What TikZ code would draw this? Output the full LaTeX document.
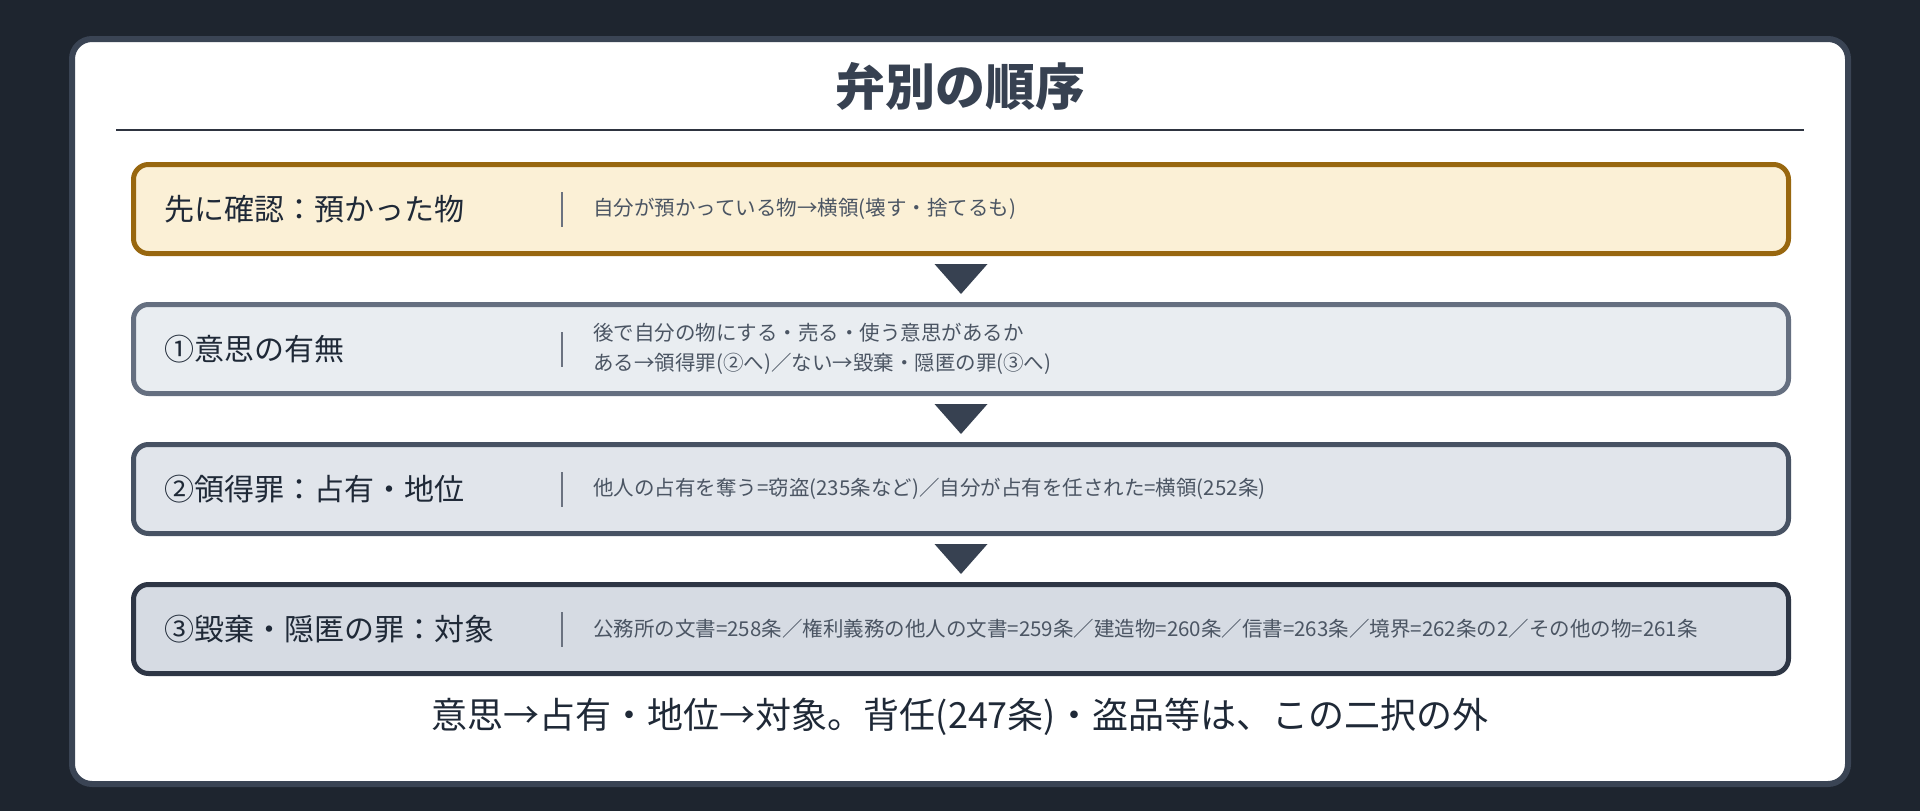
\documentclass[tikz,border=0pt]{standalone}
\usepackage{fontspec}
\setmainfont{Noto Sans CJK JP}
\usetikzlibrary{positioning,calc}

\definecolor{bgdark}{HTML}{1E252F}
\definecolor{cardline}{HTML}{3A4454}
\definecolor{titletext}{HTML}{374151}
\definecolor{ruleline}{HTML}{2E3440}
\definecolor{amberline}{HTML}{98670F}
\definecolor{amberfill}{HTML}{FBF0D6}
\definecolor{slateAline}{HTML}{656F80}
\definecolor{slateAfill}{HTML}{E9EDF1}
\definecolor{slateBline}{HTML}{475263}
\definecolor{slateBfill}{HTML}{E1E5EB}
\definecolor{slateCline}{HTML}{2E3645}
\definecolor{slateCfill}{HTML}{D6DBE3}
\definecolor{labeltext}{HTML}{1F2937}
\definecolor{infotext}{HTML}{4B5563}
\definecolor{sepgray}{HTML}{6B7280}
\definecolor{trifill}{HTML}{374151}

\begin{document}
\begin{tikzpicture}[x=1pt,y=-1pt,node distance=46pt,
						card/.style={draw=cardline,line width=6pt,fill=white,rounded corners=20pt},
						title/.style={text=titletext,inner sep=0pt,font=\bfseries\fontsize{50}{56}\selectfont},
						box/.style={rectangle,rounded corners=15pt,line width=5pt,minimum width=1655pt,minimum height=89pt,inner sep=0pt},
						lbl/.style={anchor=west,inner sep=0pt,text=labeltext,font=\fontsize{30}{36}\selectfont},
						info/.style={anchor=west,inner sep=0pt,text=infotext,align=left,font=\fontsize{20.5}{30}\selectfont},
						sep/.style={rectangle,fill=sepgray,inner sep=0pt,minimum width=2.5pt,minimum height=35pt},
						tri/.style={fill=trifill},
						note/.style={text=labeltext,inner sep=0pt,font=\fontsize{36}{42}\selectfont}]
		\useasboundingbox (0,0) rectangle (1920,811);
		\fill[bgdark] (0,0) rectangle (1920,811);
		\draw[card] (72,39) rectangle (1848,784);

		\node[title]									(title)	at (960,86)	{弁別の順序};
		\draw[ruleline,line width=2.8pt] (116,130) -- (1804,130);

		\node[box,draw=amberline,fill=amberfill]					(b1)	at (961,209)	{};
		\node[box,draw=slateAline,fill=slateAfill,below=of b1]	(b2)	{};
		\node[box,draw=slateBline,fill=slateBfill,below=of b2]	(b3)	{};
		\node[box,draw=slateCline,fill=slateCfill,below=of b3]	(b4)	{};

		\node[lbl]	(l1)	at ([xshift=33pt]b1.west)	{先に確認：預かった物};
		\node[lbl]	(l2)	at ([xshift=33pt]b2.west)	{①意思の有無};
		\node[lbl]	(l3)	at ([xshift=33pt]b3.west)	{②領得罪：占有・地位};
		\node[lbl]	(l4)	at ([xshift=33pt]b4.west)	{③毀棄・隠匿の罪：対象};

		\node[sep]	(s1)	at ([xshift=431pt]b1.west)	{};
		\node[sep]	(s2)	at ([xshift=431pt]b2.west)	{};
		\node[sep]	(s3)	at ([xshift=431pt]b3.west)	{};
		\node[sep]	(s4)	at ([xshift=431pt]b4.west)	{};

		\node[info]	(i1)	at ([xshift=462pt]b1.west)	{自分が預かっている物→横領(壊す・捨てるも)};
		\node[info]	(i2)	at ([xshift=462pt]b2.west)	{後で自分の物にする・売る・使う意思があるか\\ある→領得罪(②へ)／ない→毀棄・隠匿の罪(③へ)};
		\node[info]	(i3)	at ([xshift=462pt]b3.west)	{他人の占有を奪う=窃盗(235条など)／自分が占有を任された=横領(252条)};
		\node[info]	(i4)	at ([xshift=462pt]b4.west)	{公務所の文書=258条／権利義務の他人の文書=259条／建造物=260条／信書=263条／境界=262条の2／その他の物=261条};

		\coordinate (m1) at ($(b1.south)!0.5!(b2.north)$);
		\coordinate (m2) at ($(b2.south)!0.5!(b3.north)$);
		\coordinate (m3) at ($(b3.south)!0.5!(b4.north)$);
		\fill[tri] ($(m1)+(-26.5,-15)$) -- ($(m1)+(26.5,-15)$) -- ($(m1)+(0,15)$) -- cycle;
		\fill[tri] ($(m2)+(-26.5,-15)$) -- ($(m2)+(26.5,-15)$) -- ($(m2)+(0,15)$) -- cycle;
		\fill[tri] ($(m3)+(-26.5,-15)$) -- ($(m3)+(26.5,-15)$) -- ($(m3)+(0,15)$) -- cycle;

		\node[note]	(n)	at (960,717)	{意思→占有・地位→対象。背任(247条)・盗品等は、この二択の外};
	\end{tikzpicture}
\end{document}
